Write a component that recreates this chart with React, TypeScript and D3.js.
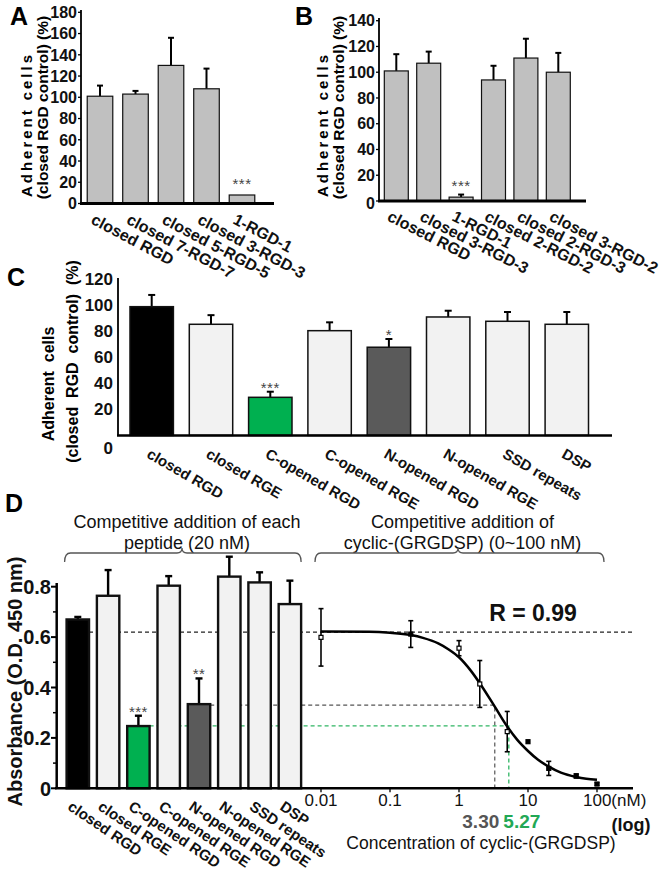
import React from "react";
import * as d3 from "d3";

const FONT = "'Liberation Sans', Arial, Helvetica, sans-serif";

// ---------- Panel A ----------
const aCategories = ["closed RGD", "closed 7-RGD-7", "closed 5-RGD-5", "closed 3-RGD-3", "1-RGD-1"];
const aMeans = [101, 103, 130, 108, 8];
const aErrors = [10, 3, 26, 19, 0];
const aStars = ["", "", "", "", "***"];
const aTicks = [0, 20, 40, 60, 80, 100, 120, 140, 160, 180];

// ---------- Panel B ----------
const bCategories = ["closed RGD", "closed 3-RGD-3", "1-RGD-1", "closed 2-RGD-2", "closed 2-RGD-3", "closed 3-RGD-2"];
const bMeans = [101, 107, 3, 94, 111, 100];
const bErrors = [13, 9, 2, 11, 15, 15];
const bStars = ["", "", "***", "", "", ""];
const bTicks = [0, 20, 40, 60, 80, 100, 120, 140];

// ---------- Panel C ----------
const cCategories = ["closed RGD", "closed RGE", "C-opened RGD", "C-opened RGE", "N-opened RGD", "N-opened RGE", "SSD repeats", "DSP"];
const cMeans = [98.7, 85.2, 29.2, 80.3, 67.6, 90.8, 87.5, 85.2];
const cErrors = [9, 7, 4.3, 6.4, 6.3, 4.8, 7.1, 9.4];
const cStars = ["", "", "***", "", "*", "", "", ""];
const cTicks = [0, 20, 40, 60, 80, 100, 120];

// ---------- Panel D (bars) ----------
const dCategories = ["closed RGD", "closed RGE", "C-opened RGD", "C-opened RGE", "N-opened RGD", "N-opened RGE", "SSD repeats", "DSP"];
const dMeans = [0.67, 0.764, 0.247, 0.804, 0.334, 0.84, 0.817, 0.731];
const dErrors = [0.01, 0.102, 0.041, 0.038, 0.102, 0.079, 0.04, 0.093];
const dStars = ["", "", "***", "", "**", "", "", ""];
const dMajorTicks = [0, 0.2, 0.4, 0.6, 0.8];
const dMinorTicks = [0.1, 0.3, 0.5, 0.7];

// ---------- Panel D (dose response) ----------
const doseConc = [0.01, 0.2, 1, 2, 5, 10, 20, 50, 100];
const doseAbs = [0.599, 0.612, 0.556, 0.414, 0.225, 0.185, 0.079, 0.049, 0.017];
const doseErr = [0.114, 0.053, 0.03, 0.093, 0.08, 0, 0.028, 0.008, 0.005];
const doseFilled = [false, true, false, false, false, true, true, true, true];
const fitConc = [0.01, 0.05, 0.1, 0.2, 0.3, 0.5, 0.7, 1, 1.5, 2, 3.3, 5, 7, 10, 14, 20, 30, 50, 70, 100];
const fitAbs = [0.622, 0.621, 0.617, 0.608, 0.597, 0.575, 0.552, 0.52, 0.465, 0.417, 0.324, 0.245, 0.192, 0.148, 0.113, 0.086, 0.062, 0.045, 0.038, 0.034];
const decadeTicks = [0.01, 0.1, 1, 10, 100];
const decadeLabels = ["0.01", "0.1", "1", "10", "100(nM)"];
const controlLevel = 0.62;
const halfLevels = [0.33, 0.248];
const halfConc = [3.3, 5.27];
const halfLabels = ["3.30", "5.27"];

const WHITE_BAR = "#f2f2f2";
const GREEN = "#00b050";
const DARK = "#5a5a5a";
const cdColors = ["#000000", WHITE_BAR, GREEN, WHITE_BAR, DARK, WHITE_BAR, WHITE_BAR, WHITE_BAR];

function band(domain: string[], center0: number, step: number, pad: number) {
  const start = center0 - step / 2;
  return d3
    .scaleBand<string>()
    .domain(domain)
    .range([start, start + step * domain.length])
    .paddingInner(pad)
    .paddingOuter(pad / 2);
}

type BarProps = {
  cats: string[];
  means: number[];
  errs: number[];
  colors: string[];
  x: d3.ScaleBand<string>;
  y: d3.ScaleLinear<number, number>;
  strokeW: number;
  errW: number;
  cap: number;
  stars: string[];
  starDy: number;
  starSize: number;
};

function Bars(p: BarProps) {
  return (
    <g>
      {p.cats.map((c, i) => {
        const x0 = p.x(c)!;
        const w = p.x.bandwidth();
        const cx = x0 + w / 2;
        const yt = p.y(p.means[i]);
        const yb = p.y(0);
        const ye = p.y(p.means[i] + p.errs[i]);
        return (
          <g key={c + i}>
            {p.errs[i] > 0 && (
              <g stroke="#000" strokeWidth={p.errW}>
                <line x1={cx} x2={cx} y1={yt} y2={ye} />
                <line x1={cx - p.cap} x2={cx + p.cap} y1={ye} y2={ye} />
              </g>
            )}
            <rect x={x0} y={yt} width={w} height={yb - yt} fill={p.colors[i]} stroke="#111" strokeWidth={p.strokeW} />
            {p.stars[i] && (
              <text x={cx} y={ye + p.starDy} textAnchor="middle" fontSize={p.starSize} fill="#444" fontFamily={FONT} letterSpacing={0.5}>
                {p.stars[i]}
              </text>
            )}
          </g>
        );
      })}
    </g>
  );
}

function RotLabels({ cats, x, y0, dx, angle, size }: { cats: string[]; x: d3.ScaleBand<string>; y0: number; dx: number; angle: number; size: number }) {
  return (
    <g>
      {cats.map((c, i) => {
        const cx = x(c)! + x.bandwidth() / 2 + dx;
        return (
          <text key={c + i} transform={`translate(${cx},${y0}) rotate(${angle})`} fontSize={size} fontWeight="bold" fontFamily={FONT} fill="#111">
            {c}
          </text>
        );
      })}
    </g>
  );
}

function YAxis({ x, y, ticks, top, labelX, size, zeroDy, tickLen }: { x: number; y: d3.ScaleLinear<number, number>; ticks: number[]; top: number; labelX: number; size: number; zeroDy: number; tickLen: number }) {
  return (
    <g>
      <line x1={x} x2={x} y1={top} y2={y(0)} stroke="#000" strokeWidth={1.8} />
      {ticks.map((t) => (
        <g key={t}>
          <line x1={x - tickLen} x2={x} y1={y(t)} y2={y(t)} stroke="#000" strokeWidth={1.3} />
          <text x={labelX} y={y(t) + (t === 0 ? zeroDy : 0)} dy="0.36em" textAnchor="end" fontSize={size} fontWeight="bold" fontFamily={FONT} fill="#111">
            {t}
          </text>
        </g>
      ))}
    </g>
  );
}

export default function App() {
  // Panel A
  const yA = d3.scaleLinear().domain([0, 180]).range([203.5, 12.3]);
  const xA = band(aCategories, 100, 35.5, 0.28);
  // Panel B
  const yB = d3.scaleLinear().domain([0, 140]).range([201, 20.7]);
  const xB = band(bCategories, 396.3, 32.4, 0.26);
  // Panel C
  const yC = d3.scaleLinear().domain([0, 120]).range([435.4, 278.9]);
  const xC = band(cCategories, 151.7, 59.3, 0.268);
  // Panel D
  const yD = d3.scaleLinear().domain([0, 0.8]).range([788.3, 586.7]);
  const xD = band(dCategories, 77.8, 30.3, 0.26);
  const xLog = d3.scaleLog().domain([0.01, 100]).range([321, 597]);

  const fitLine = d3
    .line<number>()
    .x((_, i) => xLog(fitConc[i]))
    .y((d) => yD(d))
    .curve(d3.curveMonotoneX)(fitAbs);

  const bar1Right = xD(dCategories[0])! + xD.bandwidth();
  const bar3Right = xD(dCategories[2])! + xD.bandwidth();
  const bar5Right = xD(dCategories[4])! + xD.bandwidth();
  const dashEnd = 633;

  const lbX0 = xD(dCategories[0])! - 2;
  const lbX1 = xD(dCategories[7])! + xD.bandwidth();
  const lbMid = 182;
  const rbX0 = xLog(0.01) - 6;
  const rbX1 = xLog(100) + 7;
  const rbMid = 458;
  const brY = 553;
  const bracket = (a: number, b: number, m: number) =>
    `M${a},${brY + 9} Q${a},${brY} ${a + 6},${brY} L${m - 5},${brY} Q${m},${brY} ${m},${brY - 5} Q${m},${brY} ${m + 5},${brY} L${b - 6},${brY} Q${b},${brY} ${b},${brY + 9}`;

  return (
    <svg width={670} height={879} viewBox="0 0 670 879" style={{ position: "absolute", left: 0, top: 0, background: "#fff" }} fontFamily={FONT}>
      <rect x={0} y={0} width={670} height={879} fill="#fff" />

      {/* ===== Panel A ===== */}
      <text x={10} y={25} fontSize={25} fontWeight="bold">A</text>
      <text transform="translate(32,126) rotate(-90)" textAnchor="middle" fontSize={15} fontWeight="bold" textLength={142} lengthAdjust="spacing">Adherent cells</text>
      <text transform="translate(48,107.5) rotate(-90)" textAnchor="middle" fontSize={15.5} fontWeight="bold">(closed RGD control) (%)</text>
      <YAxis x={81} y={yA} ticks={aTicks} top={10} labelX={77} size={16} zeroDy={0} tickLen={3} />
      <Bars cats={aCategories} means={aMeans} errs={aErrors} colors={aCategories.map(() => "#c0c0c0")} x={xA} y={yA} strokeW={1.2} errW={2} cap={3} stars={aStars} starDy={-6} starSize={15} />
      <line x1={80} x2={274} y1={yA(0)} y2={yA(0)} stroke="#000" strokeWidth={3} />
      <RotLabels cats={aCategories} x={xA} y0={223} dx={-10} angle={28} size={16} />

      {/* ===== Panel B ===== */}
      <text x={295} y={25} fontSize={25} fontWeight="bold">B</text>
      <text transform="translate(328,126) rotate(-90)" textAnchor="middle" fontSize={15} fontWeight="bold" textLength={142} lengthAdjust="spacing">Adherent cells</text>
      <text transform="translate(344,107.5) rotate(-90)" textAnchor="middle" fontSize={15.5} fontWeight="bold">(closed RGD control) (%)</text>
      <YAxis x={379} y={yB} ticks={bTicks} top={18} labelX={375} size={16} zeroDy={2} tickLen={3} />
      <Bars cats={bCategories} means={bMeans} errs={bErrors} colors={bCategories.map(() => "#c0c0c0")} x={xB} y={yB} strokeW={1.2} errW={2} cap={3} stars={bStars} starDy={-4} starSize={15} />
      <line x1={378} x2={586} y1={yB(0)} y2={yB(0)} stroke="#000" strokeWidth={3} />
      <RotLabels cats={bCategories} x={xB} y0={220} dx={-10} angle={27} size={16} />

      {/* ===== Panel C ===== */}
      <text x={7} y={286} fontSize={25} fontWeight="bold">C</text>
      <text transform="translate(54,384) rotate(-90)" textAnchor="middle" fontSize={16} fontWeight="bold" style={{ whiteSpace: "pre" }}>{"Adherent  cells"}</text>
      <text transform="translate(78,361.5) rotate(-90)" textAnchor="middle" fontSize={16} fontWeight="bold" style={{ whiteSpace: "pre" }}>{"(closed  RGD  control)  (%)"}</text>
      <YAxis x={118} y={yC} ticks={cTicks} top={278} labelX={113} size={17} zeroDy={12} tickLen={0} />
      <Bars cats={cCategories} means={cMeans} errs={cErrors} colors={cdColors} x={xC} y={yC} strokeW={1.5} errW={2} cap={3.5} stars={cStars} starDy={1} starSize={15} />
      <line x1={117} x2={612} y1={yC(0)} y2={yC(0)} stroke="#000" strokeWidth={2.5} />
      <RotLabels cats={cCategories} x={xC} y0={457} dx={-6} angle={30} size={15} />

      {/* ===== Panel D ===== */}
      <text x={5} y={512} fontSize={25} fontWeight="bold">D</text>
      <text x={187} y={528} textAnchor="middle" fontSize={18} fill="#111">Competitive addition of each</text>
      <text x={187} y={549} textAnchor="middle" fontSize={18} fill="#111">peptide (20 nM)</text>
      <text x={462.5} y={528} textAnchor="middle" fontSize={18} fill="#111">Competitive addition of</text>
      <text x={462.5} y={549} textAnchor="middle" fontSize={18} fill="#111">cyclic-(GRGDSP) (0~100 nM)</text>
      <path d={bracket(lbX0, lbX1, lbMid)} fill="none" stroke="#555" strokeWidth={1.3} />
      <path d={bracket(rbX0, rbX1, rbMid)} fill="none" stroke="#555" strokeWidth={1.3} />

      <text transform="translate(22,681.5) rotate(-90)" textAnchor="middle" fontSize={20} fontWeight="bold" fill="#111">Absorbance (O.D. 450 nm)</text>

      {/* dashed guide lines (behind bars) */}
      <line x1={bar1Right} x2={dashEnd} y1={yD(controlLevel)} y2={yD(controlLevel)} stroke="#222" strokeWidth={1.2} strokeDasharray="4,3" />
      <polyline points={`${bar5Right},${yD(halfLevels[0])} ${xLog(halfConc[0])},${yD(halfLevels[0])} ${xLog(halfConc[0])},${yD(0)}`} fill="none" stroke="#555" strokeWidth={1.2} strokeDasharray="4,3" />
      <polyline points={`${bar3Right},${yD(halfLevels[1])} ${xLog(halfConc[1])},${yD(halfLevels[1])} ${xLog(halfConc[1])},${yD(0)}`} fill="none" stroke="#2fb563" strokeWidth={1.3} strokeDasharray="4,3" />

      <Bars cats={dCategories} means={dMeans} errs={dErrors} colors={cdColors} x={xD} y={yD} strokeW={2.4} errW={2.4} cap={3.5} stars={dStars} starDy={1} starSize={15} />

      {/* D y axis */}
      <line x1={56.7} x2={56.7} y1={583} y2={yD(0)} stroke="#000" strokeWidth={2.5} />
      {dMajorTicks.map((t) => (
        <g key={"M" + t}>
          <line x1={51} x2={56.7} y1={yD(t)} y2={yD(t)} stroke="#000" strokeWidth={2} />
          <text x={51} y={yD(t)} dy="0.36em" textAnchor="end" fontSize={20} fontWeight="bold" fill="#111">{t === 0 ? "0" : t.toFixed(1)}</text>
        </g>
      ))}
      {dMinorTicks.map((t) => (
        <line key={"m" + t} x1={53} x2={56.7} y1={yD(t)} y2={yD(t)} stroke="#000" strokeWidth={1.5} />
      ))}
      <line x1={55} x2={633} y1={yD(0)} y2={yD(0)} stroke="#000" strokeWidth={2.5} />
      <RotLabels cats={dCategories} x={xD} y0={809} dx={-11} angle={34} size={15} />

      {/* log x axis */}
      {decadeTicks.map((t, i) => (
        <g key={"d" + t}>
          <line x1={xLog(t)} x2={xLog(t)} y1={yD(0)} y2={yD(0) + 4} stroke="#000" strokeWidth={1.3} />
          <text x={i === 4 ? xLog(t) - 14 : xLog(t)} y={806} textAnchor={i === 4 ? "start" : "middle"} fontSize={17} fill="#111">{decadeLabels[i]}</text>
        </g>
      ))}
      {halfLabels.map((s, i) => (
        <text key={s} x={i === 0 ? xLog(halfConc[0]) - 14 : xLog(halfConc[1]) + 13} y={828} textAnchor="middle" fontSize={19} fontWeight="bold" fill={i === 0 ? "#555" : "#22a855"}>{s}</text>
      ))}
      <text x={631} y={831} textAnchor="middle" fontSize={18} fontWeight="bold" fill="#111">(log)</text>
      <text x={481} y={849} textAnchor="middle" fontSize={17.5} fill="#111">Concentration of cyclic-(GRGDSP)</text>

      {/* fitted curve */}
      <path d={fitLine ?? ""} fill="none" stroke="#000" strokeWidth={2.5} />
      {doseConc.map((c, i) => {
        const cx = xLog(c);
        const cy = yD(doseAbs[i]);
        const e = doseErr[i];
        return (
          <g key={"p" + c}>
            {e > 0 && (
              <g stroke="#000" strokeWidth={1.6}>
                <line x1={cx} x2={cx} y1={yD(doseAbs[i] - e)} y2={yD(doseAbs[i] + e)} />
                <line x1={cx - 2.5} x2={cx + 2.5} y1={yD(doseAbs[i] + e)} y2={yD(doseAbs[i] + e)} />
                <line x1={cx - 2.5} x2={cx + 2.5} y1={yD(doseAbs[i] - e)} y2={yD(doseAbs[i] - e)} />
              </g>
            )}
            <rect x={cx - 2} y={cy - 2} width={4} height={4} fill={doseFilled[i] ? "#000" : "#fff"} stroke="#000" strokeWidth={1.2} />
          </g>
        );
      })}
      <text x={533} y={621} textAnchor="middle" fontSize={23} fontWeight="bold" fill="#111">R = 0.99</text>
    </svg>
  );
}
